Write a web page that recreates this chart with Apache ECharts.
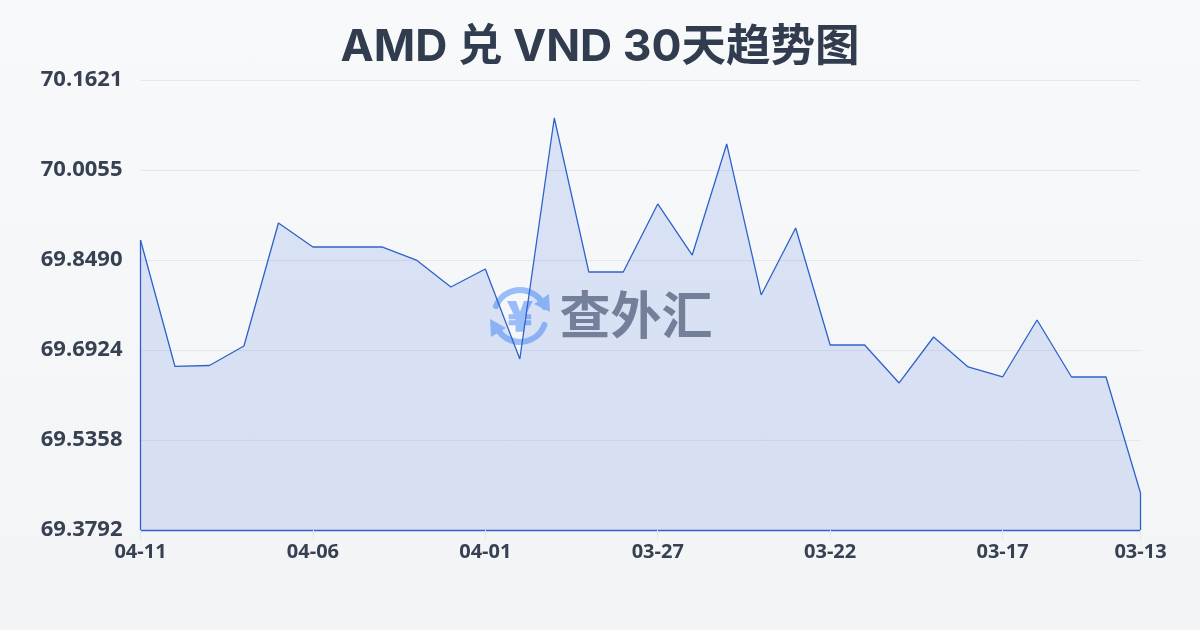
<!DOCTYPE html>
<html><head><meta charset="utf-8">
<style>html,body{margin:0;padding:0;width:1200px;height:630px;background:linear-gradient(180deg,#f8f9fb,#f3f4f6)}#c{width:1200px;height:630px}</style>
<script src="https://cdn.jsdelivr.net/npm/echarts@6/dist/echarts.min.js"></script>
</head><body><div id="c"></div>
<script>
var titleText = 'AMD 兑 VND 30天趋势图';
var categories = ['04-11','04-10','04-09','04-08','04-07','04-06','04-05','04-04','04-03','04-02','04-01','03-31','03-30','03-29','03-28','03-27','03-26','03-25','03-24','03-23','03-22','03-21','03-20','03-19','03-18','03-17','03-16','03-15','03-14','03-13'];
var values = [69.8837,69.6637,69.6654,69.6993,69.9133,69.8716,69.8716,69.8716,69.8489,69.8020,69.8333,69.6767,70.0960,69.8281,69.8281,69.9464,69.8576,70.0508,69.7881,69.9046,69.7011,69.7011,69.6350,69.7150,69.6628,69.6454,69.7446,69.6454,69.6454,69.4436];
var tickValues = [69.3792,69.5358,69.6924,69.8490,70.0055,70.1621];
var shownLabels = ['04-11','04-06','04-01','03-27','03-22','03-17','03-13'];
var font = '"Inter","Noto Sans CJK SC",sans-serif';
var labelFont = '"Open Sans","Noto Sans",sans-serif';
var lineColor = '#2f62c9';
var wmBlue = '#98bdf8';
var yMin = tickValues[0], yMax = tickValues[tickValues.length-1];
var last = categories.length-1;
var chart = echarts.init(document.getElementById('c'), null, {renderer:'canvas'});
function arrow(points){ return {type:'polygon', shape:{points:points}, style:{fill:wmBlue}, silent:true}; }
chart.setOption({
  animation:false,
  backgroundColor:'transparent',
  title:{text:titleText,left:'center',top:20,textStyle:{fontFamily:font,fontSize:44.5,fontWeight:'bold',color:'#323c4f'}},
  grid:{left:140.5,right:59.5,top:80,bottom:100,containLabel:false},
  xAxis:{type:'category',data:categories,boundaryGap:false,
    axisLine:{show:true,lineStyle:{color:lineColor,width:1.3}},
    axisTick:{show:true,length:10,interval:function(i,v){return shownLabels.indexOf(v)>=0;},lineStyle:{color:'#e3e6ec'}},
    axisLabel:{interval:function(i,v){return shownLabels.indexOf(v)>=0;},hideOverlap:false,margin:12,fontFamily:labelFont,fontSize:20,fontWeight:'bold',color:'#374151'},
    splitLine:{show:false}},
  yAxis:{type:'value',min:yMin,max:yMax,
    axisLine:{show:false},axisTick:{show:false,customValues:tickValues},
    axisLabel:{customValues:tickValues,margin:18,fontFamily:labelFont,fontSize:22,fontWeight:'bold',color:'#374151',formatter:function(v){return v.toFixed(4);}},
    splitLine:{show:true,lineStyle:{color:'#e5e7ec',width:1}}},
  graphic:[{type:'group',z:-1,zlevel:0,silent:true,children:[
    {type:'arc',shape:{cx:520,cy:316,r:26,startAngle:-2.75,endAngle:-0.35},style:{fill:'none',stroke:wmBlue,lineWidth:6,lineCap:'round'}},
    {type:'arc',shape:{cx:520,cy:316,r:26,startAngle:0.35,endAngle:2.75},style:{fill:'none',stroke:wmBlue,lineWidth:6,lineCap:'round'}},
    arrow([[549,294],[550,312],[534,304]]),
    arrow([[491,337],[490,319],[506,328]]),
    {type:'text',style:{text:'¥',x:520,y:316,align:'center',verticalAlign:'middle',fontFamily:'"Noto Sans CJK SC"',fontSize:40,fontWeight:900,fill:wmBlue,stroke:wmBlue,lineWidth:1.5}},
    {type:'text',style:{text:'查外汇',x:636,y:315,align:'center',verticalAlign:'middle',fontFamily:'"Noto Sans CJK SC"',fontSize:51,fontWeight:'bold',fill:'#7f838e'}}
  ]}],
  series:[{type:'line',data:values,symbol:'none',silent:true,z:2,
    lineStyle:{color:lineColor,width:1.3},
    areaStyle:{origin:'start',color:'rgba(62,112,222,0.22)'},
    markLine:{silent:true,symbol:'none',label:{show:false},lineStyle:{color:lineColor,width:1.3,type:'solid'},
      data:[[{coord:[categories[0],yMin]},{coord:[categories[0],values[0]]}],
            [{coord:[categories[last],yMin]},{coord:[categories[last],values[last]]}]]}
  }]
});
</script></body></html>
